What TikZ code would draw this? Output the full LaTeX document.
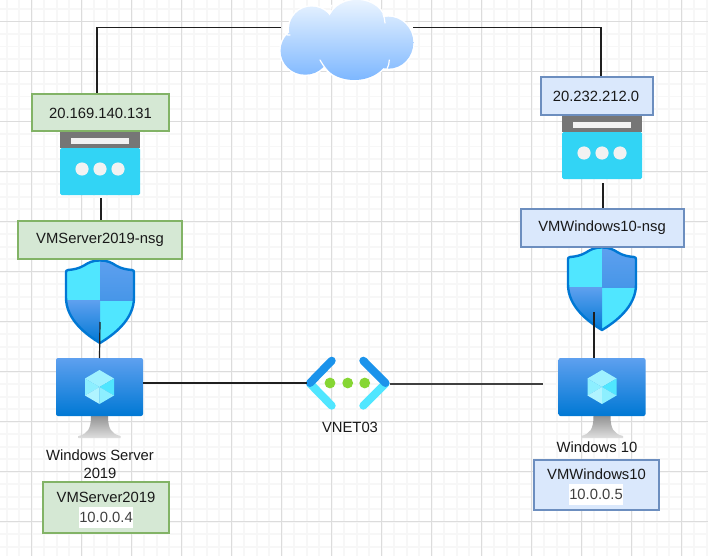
\documentclass[tikz,border=0pt]{standalone}
\usepackage{fontspec}
\setmainfont{Liberation Sans}
\usetikzlibrary{calc}
\definecolor{gmin}{HTML}{F7F7F7}
\definecolor{gmaj}{HTML}{DCDCDC}
\definecolor{greenf}{HTML}{D5E8D4}
\definecolor{greend}{HTML}{82B366}
\definecolor{bluef}{HTML}{DAE8FC}
\definecolor{blued}{HTML}{6C8EBF}
\definecolor{azure}{HTML}{0078D4}
\definecolor{azurel}{HTML}{5EA0EF}
\definecolor{cyanb}{HTML}{50E6FF}
\definecolor{pipc}{HTML}{32D4F5}
\definecolor{pipg}{HTML}{767676}
\definecolor{offw}{HTML}{F2F2F2}
\definecolor{vnetd}{HTML}{1B93EB}
\definecolor{vnetg}{HTML}{86D633}
\definecolor{cloudt}{HTML}{EAF4FF}
\definecolor{cloudb}{HTML}{7DB7FF}
\tikzset{
  gridminor/.style={draw=gmin,line width=1.6pt},
  gridmajor/.style={draw=gmaj,line width=1pt},
  txt/.style={font=\fontsize{14.8}{18}\selectfont,inner sep=0pt,text=black!90},
  greenbox/.style={draw=greend,fill=greenf,line width=1.2pt,inner sep=0pt},
  bluebox/.style={draw=blued,fill=bluef,line width=1.2pt,inner sep=0pt},
  iconbox/.style={inner sep=0pt,outer sep=0pt},
  link/.style={draw=black!88,line width=1.2pt},
  whitebg/.style={txt,fill=white,inner xsep=0.3pt,minimum height=21pt,text=black!75}
}
\newcommand{\pipicon}[1]{%
  \begin{scope}[shift={(#1)}]
    \fill[pipc,rounded corners=1.5pt] (-40,-15) rectangle (40,32);
    \fill[pipg] (-40,-32) rectangle (40,-15);
    \fill[offw] (-29,-25) rectangle (29,-18.5);
    \fill[offw] (-18,6) circle (6.6) (0,6) circle (6.6) (18,6) circle (6.6);
  \end{scope}}
\newcommand{\shieldpath}{(0,-41) .. controls (8,-41) and (11,-39) .. (16,-36) .. controls (21,-33) and (26,-32) .. (32,-31.5) .. controls (33.5,-31.3) and (34,-30.5) .. (34,-29) -- (34,-4) .. controls (34,18) and (14,33) .. (0,41.5) .. controls (-14,33) and (-34,18) .. (-34,-4) -- (-34,-29) .. controls (-34,-30.5) and (-33.5,-31.3) .. (-32,-31.5) .. controls (-26,-32) and (-21,-33) .. (-16,-36) .. controls (-11,-39) and (-8,-41) .. (0,-41) -- cycle}
\newcommand{\shieldicon}[1]{%
  \begin{scope}[shift={(#1)}]
    \begin{scope}
      \clip \shieldpath;
      \fill[cyanb] (-35,-42) rectangle (0,-1);
      \fill[cyanb] (0,-1) rectangle (35,42);
      \shade[top color=azurel,bottom color=azurel!75!azure] (0,-42) rectangle (35,-1);
      \shade[top color=azurel,bottom color=azure] (-35,-1) rectangle (0,42);
    \end{scope}
    \draw[azure,line width=2.4pt,line join=round] \shieldpath;
  \end{scope}}
\newcommand{\vmicon}[1]{%
  \begin{scope}[shift={(#1)}]
    \shade[top color=gray!85,bottom color=gray!25] (-8.5,29) .. controls (-8.5,42) and (-12,47) .. (-21,49) -- (-21,51) -- (21,51) -- (21,49) .. controls (12,47) and (8.5,42) .. (8.5,29) -- cycle;
    \shade[top color=azurel,bottom color=azure,rounded corners=2pt] (-43.5,-29) rectangle (43.5,29);
    \fill[cyanb!55!white] (0,-17) -- (14.5,-8.5) -- (0,0) -- (-14.5,-8.5) -- cycle;
    \fill[cyanb!65!white] (-14.5,-8.5) -- (0,0) -- (-14.5,8.5) -- cycle;
    \fill[cyanb] (14.5,-8.5) -- (0,0) -- (14.5,8.5) -- cycle;
    \fill[cyanb!45!white] (-14.5,8.5) -- (0,0) -- (0,17) -- cycle;
    \fill[cyanb!65!white] (14.5,8.5) -- (0,0) -- (0,17) -- cycle;
  \end{scope}}
\newcommand{\cloudpath}{(305.3,50.7) ellipse (24.7 and 24) (311.7,29.3) ellipse (22.7 and 22.7) (356.7,23.3) ellipse (28.5 and 23.3) (388.3,42.7) ellipse (25 and 26) (354.3,53.3) ellipse (34.7 and 26.7) (347,42) ellipse (42 and 22)}
\begin{document}
\begin{tikzpicture}[x=1pt,y=-1pt]
\useasboundingbox (0,0) rectangle (708,556);
\fill[white] (0,0) rectangle (708,556);
% grid
\foreach \i in {0,...,56} \draw[gridminor] ({6.7+12.5*\i},0) -- ++(0,556);
\foreach \i in {0,...,44} \draw[gridminor] (0,{9.2+12.5*\i}) -- ++(708,0);
\foreach \i in {0,...,13} \draw[gridmajor] ({31.7+50*\i},0) -- ++(0,556);
\foreach \i in {0,...,10} \draw[gridmajor] (0,{21.7+50*\i}) -- ++(708,0);
% anchors for icons
\node[iconbox,minimum width=132pt,minimum height=80pt] (cloud) at (347,40) {};
\node[iconbox,minimum width=80pt,minimum height=64pt] (pip1) at (100,163) {};
\node[iconbox,minimum width=80pt,minimum height=64pt] (pip2) at (602,147) {};
\node[iconbox,minimum width=68pt,minimum height=83pt] (shield1) at (100,301.5) {};
\node[iconbox,minimum width=68pt,minimum height=83pt] (shield2) at (602,288.5) {};
\node[iconbox,minimum width=87pt,minimum height=58pt] (vm1) at (99.5,387) {};
\node[iconbox,minimum width=87pt,minimum height=58pt] (vm2) at (602,387) {};
\node[iconbox,minimum width=83pt,minimum height=46pt] (vnet) at (348,383) {};
% icons
\draw[white,line width=3pt] \cloudpath;
\shade[top color=cloudt,bottom color=cloudb] \cloudpath;
\draw[white,line width=1.2pt,line cap=round] (320,60) .. controls (324,67) and (328,72) .. (332,75);
\draw[white,line width=1.2pt,line cap=round] (389.3,60) .. controls (389.3,63) and (388.5,66) .. (387,69);
\draw[white,line width=1.2pt,line cap=round] (285,33) .. controls (287,35) and (288,35.5) .. (290,35);
\draw[white,line width=1.2pt,line cap=round] (331,9) .. controls (331,7) and (331,6) .. (332,5);
\draw[white,line width=1.2pt,line cap=round] (383,14) .. controls (384,17) and (385,20) .. (385,23);
\pipicon{pip1.center}
\pipicon{pip2.center}
\shieldicon{shield1.center}
\shieldicon{shield2.center}
\vmicon{vm1.center}
\vmicon{vm2.center}
\begin{scope}[line cap=round,line width=8pt]
  \draw[cyanb] (331.7,405.7) -- (310,383.5);
  \draw[vnetd] (331.7,360.7) -- (310,383);
  \draw[cyanb] (363.3,405.7) -- (385.5,383.5);
  \draw[vnetd] (363.3,360.7) -- (385.5,383);
\end{scope}
\fill[vnetg] (330,383) circle (5.4) (347.7,383) circle (5.4) (364.7,383) circle (5.4);
% connectors
\draw[link] ([xshift=-3pt]pip1.north|-94,94) |- ([yshift=12.5pt]cloud.west);
\draw[link] ([yshift=12.5pt]cloud.east) -| ([xshift=-1pt]pip2.north|-77,77);
\draw[link] ([shift={(1pt,-3pt)}]pip1.south) -- ([xshift=1pt]pip1.south|-221,221);
\draw[link] ([shift={(1pt,-4pt)}]pip2.south) -- ([xshift=1pt]pip2.south|-208,208);
\draw[link] ([yshift=-20.5pt]shield1.center) -- (vm1.north);
\draw[link] ([shift={(-8pt,-23.5pt)}]shield2.center) -- ([xshift=-8pt]vm2.north);
\draw[link] ([yshift=4pt]vm1.east) -- (vnet.west);
\draw[link,draw=black!75] ([yshift=-1pt]vnet.east) -- ([shift={(-16pt,3pt)}]vm2.west);
% boxes
\node[greenbox,minimum width=137pt,minimum height=37pt] (ip1) at (100.5,112.5) {};
\node[txt] (ip1t) at (100.5,113) {20.169.140.131};
\node[greenbox,minimum width=164pt,minimum height=38pt] (nsg1) at (100,240) {};
\node[txt] (nsg1t) at (100,240) {VMServer2019-nsg};
\node[greenbox,minimum width=126pt,minimum height=51pt] (box1) at (106,507.5) {};
\node[txt] (box1a) at (106,497.5) {VMServer2019};
\node[whitebg] (box1b) at (106,517) {10.0.0.4};
\node[bluebox,minimum width=112pt,minimum height=38pt] (ip2) at (597,96) {};
\node[txt] (ip2t) at (596,96) {20.232.212.0};
\node[bluebox,minimum width=163pt,minimum height=38pt] (nsg2) at (602.5,228) {};
\node[txt] (nsg2t) at (602,228) {VMWindows10-nsg};
\node[bluebox,minimum width=125pt,minimum height=50pt] (box2) at (596.5,485) {};
\node[txt] (box2a) at (596.5,474.5) {VMWindows10};
\node[whitebg] (box2b) at (596,494) {10.0.0.5};
% labels
\node[txt] (lab1a) at (100,455) {Windows Server};
\node[txt] (lab1b) at (100,473) {2019};
\node[txt] (lab2) at (597,447.5) {Windows 10};
\node[txt] (lab3) at (350,427) {VNET03};
\end{tikzpicture}
\end{document}
